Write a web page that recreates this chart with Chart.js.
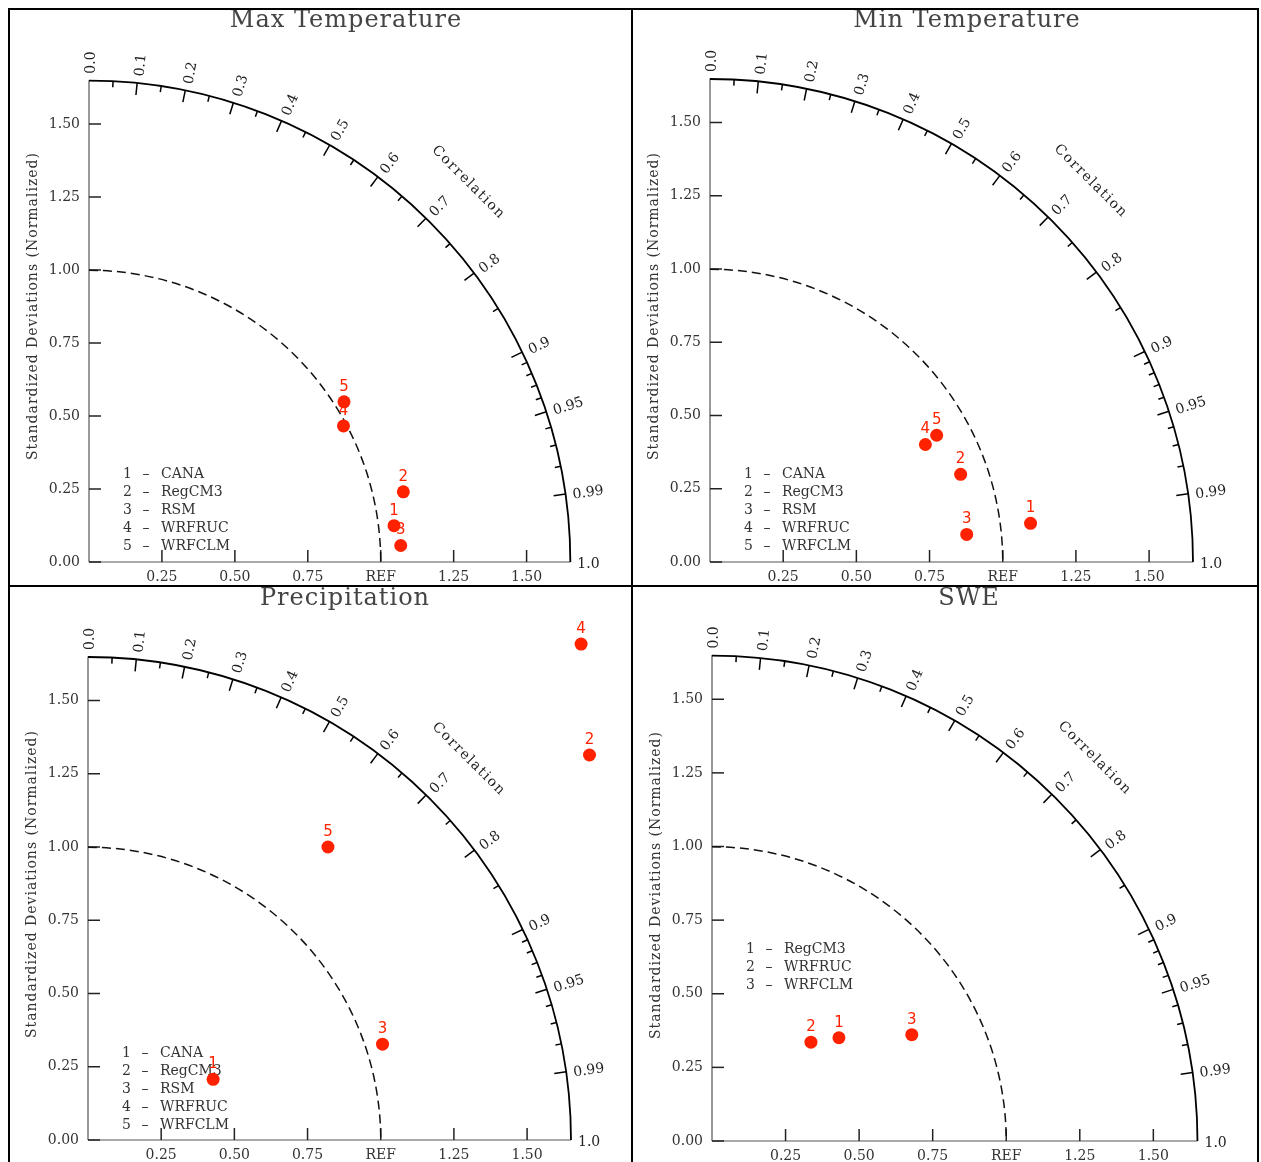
<!DOCTYPE html>
<html>
<head>
<meta charset="utf-8">
<title>Taylor diagrams</title>
<script src="https://cdn.jsdelivr.net/npm/chart.js@4.4.0/dist/chart.umd.min.js"></script>
<style>
  body { margin: 0; background: #fff; width: 1261px; height: 1162px; overflow: hidden; position: relative; }
  .panel { position: absolute; border: 2px solid #000; box-sizing: border-box; background: #fff; }
  .panel canvas { position: absolute; left: 0; top: 0; }
</style>
</head>
<body>
<div class="panel" style="left:8px;top:8px;width:625px;height:579px"><canvas id="c1"></canvas></div>
<div class="panel" style="left:631px;top:8px;width:628px;height:579px"><canvas id="c2"></canvas></div>
<div class="panel" style="left:8px;top:585px;width:625px;height:580px"><canvas id="c3"></canvas></div>
<div class="panel" style="left:631px;top:585px;width:628px;height:580px"><canvas id="c4"></canvas></div>
<script>
// standardized deviation axis
const stdMax = 1.65;
const stdTicks = [0, 0.25, 0.5, 0.75, 1.0, 1.25, 1.5];
const xTickValues = [0.25, 0.5, 0.75, 1.0, 1.25, 1.5];

// correlation arc
const corrLabelValues = [0.0, 0.1, 0.2, 0.3, 0.4, 0.5, 0.6, 0.7, 0.8, 0.9, 0.95, 0.99, 1.0];
const corrMinorValues = [0.05, 0.15, 0.25, 0.35, 0.45, 0.55, 0.65, 0.75, 0.85,
                         0.91, 0.92, 0.93, 0.94, 0.96, 0.97, 0.98];

// models
const modelsFive = ['CANA', 'RegCM3', 'RSM', 'WRFRUC', 'WRFCLM'];
const modelsSwe = ['RegCM3', 'WRFRUC', 'WRFCLM'];

// normalized std dev and correlation, one entry per model
const maxTempStd  = [1.053, 1.104, 1.070, 0.989, 1.032];
const maxTempCorr = [0.993, 0.976, 0.9986, 0.882, 0.847];
const minTempStd  = [1.103, 0.907, 0.882, 0.838, 0.887];
const minTempCorr = [0.9928, 0.944, 0.9943, 0.878, 0.873];
const precipStd   = [0.475, 2.159, 1.058, 2.388, 1.293];
const precipCorr  = [0.900, 0.7935, 0.951, 0.7054, 0.634];
const sweStd      = [0.556, 0.475, 0.769];
const sweCorr     = [0.776, 0.708, 0.883];

const RED = '#ff2200';

const panels = [
  { id: 'c1', title: 'Max Temperature', std: maxTempStd, corr: maxTempCorr, models: modelsFive,
    w: 621, h: 575, ox: 79, oy: 552, unit: 292, titleY: 11, legendTop: -88 },
  { id: 'c2', title: 'Min Temperature', std: minTempStd, corr: minTempCorr, models: modelsFive,
    w: 624, h: 575, ox: 77, oy: 552, unit: 293, titleY: 11, legendTop: -88 },
  { id: 'c3', title: 'Precipitation', std: precipStd, corr: precipCorr, models: modelsFive,
    w: 621, h: 576, ox: 78, oy: 553, unit: 293, titleY: 12, legendTop: -87 },
  { id: 'c4', title: 'SWE', std: sweStd, corr: sweCorr, models: modelsSwe,
    w: 624, h: 576, ox: 79, oy: 554, unit: 294.5, titleY: 12, legendTop: -192 }
];

function corrText(c) {
  return (Math.round(c * 100) % 10 === 0) ? c.toFixed(1) : c.toFixed(2);
}

function taylorPlugin(cfg) {
  return {
    id: 'taylor',
    beforeDatasetsDraw(chart) {
      const ctx = chart.ctx, xs = chart.scales.x, ys = chart.scales.y;
      const ox = xs.getPixelForValue(0), oy = ys.getPixelForValue(0);
      const R = xs.getPixelForValue(stdMax) - ox;
      const r1 = xs.getPixelForValue(1) - ox;
      const line = (a, b, c, d) => { ctx.beginPath(); ctx.moveTo(a, b); ctx.lineTo(c, d); ctx.stroke(); };

      ctx.save();
      // axis lines, only as far as the outer arc
      ctx.strokeStyle = '#555';
      ctx.lineWidth = 1.2;
      line(ox, oy, ox + R, oy);
      line(ox, oy, ox, ys.getPixelForValue(stdMax));

      // inward ticks on both axes
      ctx.strokeStyle = '#222';
      ctx.lineWidth = 1.5;
      stdTicks.forEach(v => {
        const py = ys.getPixelForValue(v);
        line(ox, py, ox + 12, py);
        if (v > 0) {
          const px = xs.getPixelForValue(v);
          line(px, oy, px, oy - 12);
        }
      });

      // REF arc
      ctx.strokeStyle = '#111';
      ctx.lineWidth = 1.5;
      ctx.setLineDash([9, 5]);
      ctx.beginPath();
      ctx.arc(ox, oy, r1, -Math.PI / 2, 0);
      ctx.stroke();
      ctx.setLineDash([]);

      // outer correlation arc
      ctx.strokeStyle = '#000';
      ctx.lineWidth = 1.8;
      ctx.beginPath();
      ctx.arc(ox, oy, R, -Math.PI / 2, 0);
      ctx.stroke();

      ctx.lineWidth = 1.5;
      corrLabelValues.forEach(c => {
        if (c === 0 || c === 1) return;
        const t = Math.acos(c);
        line(ox + R * Math.cos(t), oy - R * Math.sin(t), ox + (R - 12) * Math.cos(t), oy - (R - 12) * Math.sin(t));
      });
      corrMinorValues.forEach(c => {
        const t = Math.acos(c);
        line(ox + R * Math.cos(t), oy - R * Math.sin(t), ox + (R - 6) * Math.cos(t), oy - (R - 6) * Math.sin(t));
      });

      // correlation labels
      ctx.fillStyle = '#222';
      ctx.font = '14px "DejaVu Serif"';
      ctx.textAlign = 'left';
      ctx.textBaseline = 'middle';
      corrLabelValues.forEach(c => {
        const t = Math.acos(c);
        ctx.save();
        ctx.translate(ox + (R + 7) * Math.cos(t), oy - (R + 7) * Math.sin(t));
        ctx.rotate(-t);
        ctx.fillText(corrText(c), 0, 2);
        ctx.restore();
      });

      // "Correlation"
      ctx.save();
      ctx.translate(ox + R * 1.115 * Math.SQRT1_2, oy - R * 1.115 * Math.SQRT1_2);
      ctx.rotate(Math.PI / 4);
      ctx.textAlign = 'center';
      ctx.letterSpacing = '1.5px';
      ctx.fillText('Correlation', 0, 0);
      ctx.restore();

      // y axis title
      ctx.save();
      ctx.translate(ox - 56, oy - 256);
      ctx.rotate(-Math.PI / 2);
      ctx.textAlign = 'center';
      ctx.fillStyle = '#333';
      ctx.letterSpacing = '1px';
      ctx.fillText('Standardized Deviations (Normalized)', 0, 0);
      ctx.restore();

      // panel title
      ctx.save();
      ctx.font = '24px "DejaVu Serif"';
      ctx.fillStyle = '#444';
      ctx.textAlign = 'center';
      ctx.letterSpacing = '1px';
      ctx.fillText(cfg.title, ox + 257, cfg.titleY);
      ctx.restore();

      // legend
      ctx.fillStyle = '#333';
      ctx.font = '14px "DejaVu Serif"';
      cfg.models.forEach((name, i) => {
        const y = oy + cfg.legendTop + i * 18;
        ctx.textAlign = 'left';
        ctx.fillText(String(i + 1), ox + 34, y);
        ctx.textAlign = 'center';
        ctx.fillText('\u2013', ox + 57, y);
        ctx.textAlign = 'left';
        ctx.fillText(name, ox + 72, y);
      });
      ctx.restore();
    },
    afterDatasetsDraw(chart) {
      const ctx = chart.ctx;
      const meta = chart.getDatasetMeta(0);
      ctx.save();
      ctx.fillStyle = RED;
      ctx.font = '15px "DejaVu Sans"';
      ctx.textAlign = 'center';
      ctx.textBaseline = 'middle';
      meta.data.forEach((el, i) => ctx.fillText(String(i + 1), el.x, el.y - 15));
      ctx.restore();
    }
  };
}

function buildPanel(cfg) {
  const canvas = document.getElementById(cfg.id);
  canvas.width = cfg.w;
  canvas.height = cfg.h;
  const top = 30, right = 6;
  const xMax = (cfg.w - right - cfg.ox) / cfg.unit;
  const yMax = (cfg.oy - top) / cfg.unit;
  const points = cfg.std.map((s, i) => ({
    x: s * cfg.corr[i],
    y: s * Math.sqrt(1 - cfg.corr[i] * cfg.corr[i])
  }));
  const tickFont = { family: 'DejaVu Serif', size: 14 };

  new Chart(canvas, {
    type: 'scatter',
    data: {
      datasets: [{
        data: points,
        backgroundColor: RED,
        borderWidth: 0,
        pointRadius: 6.5,
        pointHoverRadius: 6.5,
        clip: false
      }]
    },
    options: {
      responsive: false,
      animation: false,
      events: [],
      layout: { padding: { left: 0, top: top, right: right, bottom: 0 } },
      plugins: { legend: { display: false }, tooltip: { enabled: false } },
      scales: {
        x: {
          type: 'linear', min: 0, max: xMax,
          grid: { display: false, drawTicks: false },
          border: { display: false },
          afterFit: s => { s.height = cfg.h - cfg.oy; },
          afterBuildTicks: s => { s.ticks = xTickValues.map(v => ({ value: v })); },
          ticks: {
            autoSkip: false, maxRotation: 0, padding: 7, font: tickFont, color: '#333',
            callback: v => v === 1 ? 'REF' : v.toFixed(2)
          }
        },
        y: {
          type: 'linear', min: 0, max: yMax,
          grid: { display: false, drawTicks: false },
          border: { display: false },
          afterFit: s => { s.width = cfg.ox; },
          afterBuildTicks: s => { s.ticks = stdTicks.map(v => ({ value: v })); },
          ticks: {
            autoSkip: false, padding: 9, font: tickFont, color: '#333',
            callback: v => v.toFixed(2)
          }
        }
      }
    },
    plugins: [taylorPlugin(cfg)]
  });
}

panels.forEach(buildPanel);
</script>
</body>
</html>
